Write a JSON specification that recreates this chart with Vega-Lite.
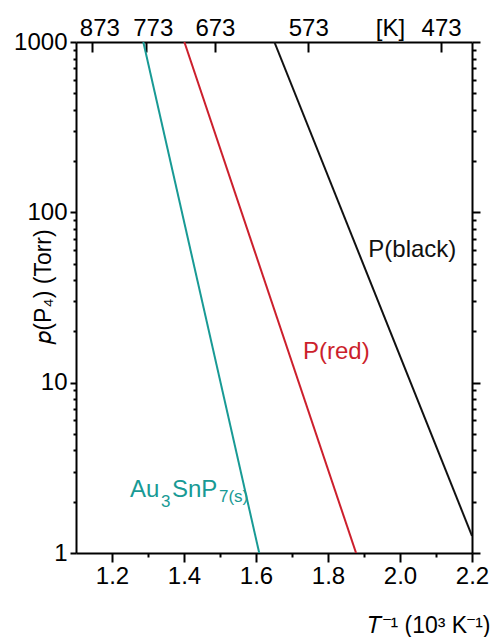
{
  "$schema": "https://vega.github.io/schema/vega-lite/v6.json",
  "width": 396,
  "height": 511,
  "autosize": "none",
  "padding": {"left": 76, "top": 42, "right": 22, "bottom": 84},
  "background": "white",
  "config": {
    "view": {"stroke": null},
    "font": "Liberation Sans",
    "axis": {
      "grid": false,
      "domainColor": "black",
      "domainWidth": 2,
      "labelFont": "Liberation Sans",
      "labelFontSize": 24,
      "labelColor": "black",
      "labelOverlap": false,
      "labelFlush": false,
      "titleFont": "Liberation Sans",
      "titleFontSize": 23,
      "titleFontWeight": "normal",
      "titleColor": "black"
    }
  },
  "datasets": {
    "curves": [
      {"phase": "Au3SnP7", "invT": 1.287, "p": 1000},
      {"phase": "Au3SnP7", "invT": 1.609, "p": 1},
      {"phase": "P(red)", "invT": 1.401, "p": 1000},
      {"phase": "P(red)", "invT": 1.878, "p": 1},
      {"phase": "P(black)", "invT": 1.651, "p": 1000},
      {"phase": "P(black)", "invT": 2.2, "p": 1.26}
    ],
    "annotations": [
      {"phase": "P(black)", "kind": "base", "label": "P(black)", "invT": 1.912, "p": 54.7},
      {"phase": "P(red)", "kind": "base", "label": "P(red)", "invT": 1.7306, "p": 13.8},
      {"phase": "Au3SnP7", "kind": "base", "label": "Au", "invT": 1.25, "p": 2.14},
      {"phase": "Au3SnP7", "kind": "sub", "label": "3", "invT": 1.3361, "p": 1.87},
      {"phase": "Au3SnP7", "kind": "base", "label": "SnP", "invT": 1.3667, "p": 2.14},
      {"phase": "Au3SnP7", "kind": "sub", "label": "7(s)", "invT": 1.4972, "p": 2.0}
    ]
  },
  "layer": [
    {
      "data": {"name": "curves"},
      "mark": {"type": "line", "strokeWidth": 2, "clip": true},
      "encoding": {
        "x": {
          "field": "invT",
          "type": "quantitative",
          "scale": {"domain": [1.1, 2.2], "nice": false, "zero": false},
          "axis": {
            "orient": "bottom",
            "values": [1.2, 1.4, 1.6, 1.8, 2.0, 2.2],
            "format": ".1f",
            "ticks": true,
            "tickColor": "black",
            "tickWidth": 2,
            "tickSize": 9,
            "labelPadding": 2,
            "title": "𝑇⁻¹ (10³ K⁻¹)",
            "titleAnchor": "end",
            "titleAlign": "right",
            "titleBaseline": "alphabetic",
            "titleX": 414,
            "titleY": 79
          }
        },
        "y": {
          "field": "p",
          "type": "quantitative",
          "scale": {"type": "log", "domain": [1, 1000], "nice": false},
          "axis": {
            "orient": "left",
            "values": [1, 10, 100, 1000],
            "format": "d",
            "ticks": true,
            "tickColor": "black",
            "tickWidth": 2,
            "tickSize": 6,
            "labelPadding": 3,
            "title": "𝑝(P₄) (Torr)",
            "titleAngle": 270,
            "titleAlign": "center",
            "titleBaseline": "alphabetic",
            "titleX": -26,
            "titleY": 244
          }
        },
        "color": {
          "field": "phase",
          "type": "nominal",
          "scale": {"domain": ["Au3SnP7", "P(red)", "P(black)"], "range": ["#189a95", "#cc1f2c", "#111111"]},
          "legend": null
        }
      }
    },
    {
      "data": {"name": "curves"},
      "mark": {"type": "line", "opacity": 0},
      "encoding": {
        "x": {
          "field": "invT",
          "type": "quantitative",
          "axis": {
            "orient": "bottom",
            "values": [1.3, 1.5, 1.7, 1.9, 2.1],
            "labels": false,
            "domain": false,
            "ticks": true,
            "tickColor": "black",
            "tickWidth": 2,
            "tickSize": 4,
            "title": null
          }
        },
        "y": {
          "field": "p",
          "type": "quantitative",
          "axis": {
            "orient": "left",
            "values": [2, 3, 4, 5, 6, 7, 8, 9, 20, 30, 40, 50, 60, 70, 80, 90, 200, 300, 400, 500, 600, 700, 800, 900],
            "labels": false,
            "domain": false,
            "ticks": true,
            "tickColor": "black",
            "tickWidth": 2,
            "tickSize": 3,
            "title": null
          }
        },
        "detail": {"field": "phase", "type": "nominal"}
      }
    },
    {
      "data": {"name": "curves"},
      "mark": {"type": "line", "opacity": 0},
      "encoding": {
        "x": {
          "field": "invT",
          "type": "quantitative",
          "axis": {
            "orient": "top",
            "values": [1.145475, 1.293661, 1.485884, 1.745201, 2.114165],
            "offset": -10,
            "ticks": true,
            "tickColor": "black",
            "tickWidth": 2,
            "tickSize": 10,
            "labels": false,
            "domain": false,
            "title": null
          }
        },
        "y": {
          "field": "p",
          "type": "quantitative",
          "axis": {
            "orient": "right",
            "values": [1, 10, 100, 1000],
            "labels": false,
            "ticks": true,
            "tickColor": "black",
            "tickWidth": 2,
            "tickSize": 8,
            "title": null
          }
        },
        "detail": {"field": "phase", "type": "nominal"}
      }
    },
    {
      "data": {"name": "curves"},
      "mark": {"type": "line", "opacity": 0},
      "encoding": {
        "x": {
          "field": "invT",
          "type": "quantitative",
          "axis": {
            "orient": "top",
            "values": [1.1649, 1.3131, 1.4859, 1.7452, 1.972, 2.1142],
            "labelExpr": "datum.value < 1.2 ? '873' : datum.value < 1.4 ? '773' : datum.value < 1.6 ? '673' : datum.value < 1.9 ? '573' : datum.value < 2.05 ? '[K]' : '473'",
            "ticks": false,
            "labelPadding": 2,
            "title": null
          }
        },
        "y": {
          "field": "p",
          "type": "quantitative",
          "axis": {
            "orient": "right",
            "values": [2, 3, 4, 5, 6, 7, 8, 9, 20, 30, 40, 50, 60, 70, 80, 90, 200, 300, 400, 500, 600, 700, 800, 900],
            "labels": false,
            "domain": false,
            "ticks": true,
            "tickColor": "black",
            "tickWidth": 2,
            "tickSize": 4,
            "title": null
          }
        },
        "detail": {"field": "phase", "type": "nominal"}
      }
    },
    {
      "data": {"name": "annotations"},
      "transform": [{"filter": "datum.kind == 'base'"}],
      "mark": {"type": "text", "fontSize": 24, "align": "left", "baseline": "alphabetic", "font": "Liberation Sans"},
      "encoding": {
        "x": {"field": "invT", "type": "quantitative", "axis": null},
        "y": {"field": "p", "type": "quantitative", "axis": null},
        "text": {"field": "label", "type": "nominal"},
        "color": {"field": "phase", "type": "nominal", "legend": null}
      }
    },
    {
      "data": {"name": "annotations"},
      "transform": [{"filter": "datum.kind == 'sub'"}],
      "mark": {"type": "text", "fontSize": 17, "align": "left", "baseline": "alphabetic", "font": "Liberation Sans"},
      "encoding": {
        "x": {"field": "invT", "type": "quantitative", "axis": null},
        "y": {"field": "p", "type": "quantitative", "axis": null},
        "text": {"field": "label", "type": "nominal"},
        "color": {"field": "phase", "type": "nominal", "legend": null}
      }
    }
  ],
  "resolve": {"axis": {"x": "independent", "y": "independent"}}
}
